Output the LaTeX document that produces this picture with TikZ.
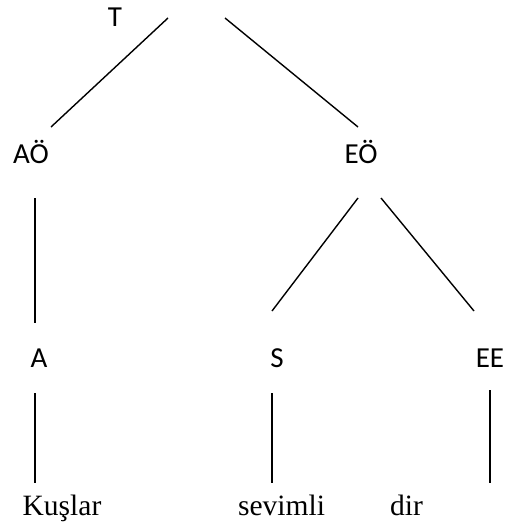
\documentclass[tikz,border=0pt]{standalone}
\usepackage{fontspec}
\setmainfont{Liberation Serif}
\newfontfamily\labelfont{Carlito}
\begin{document}
\begin{tikzpicture}[x=1pt,y=-1pt,
  cat/.style={inner sep=0pt,anchor=base,font=\labelfont\fontsize{29}{31}\selectfont},
  word/.style={inner sep=0pt,anchor=base,font=\fontsize{29.5}{31}\selectfont},
  edge/.style={line width=1.4pt}]
\useasboundingbox (0,0) rectangle (505,527);
% category labels
\node[cat] (T) at (115,27) {T};
\node[cat] (AO) at (31,163) {AÖ};
\node[cat] (EO) at (361,163) {EÖ};
\node[cat] (A) at (39,367) {A};
\node[cat] (S) at (277,367) {S};
\node[cat] (EE) at (490,367) {EE};
% words
\node[word] (kuslar) at (62,515) {Kuşlar};
\node[word] (sevimli) at (281.5,515) {sevimli};
\node[word] (dir) at (406.5,515) {dir};
% connector end points
\coordinate (T-l) at (168,18);
\coordinate (T-r) at (225,18);
\coordinate (AO-t) at (51,127);
\coordinate (EO-t) at (358,127);
\coordinate (AO-b) at (35,198);
\coordinate (A-t) at (35,323);
\coordinate (EO-bl) at (358,198);
\coordinate (EO-br) at (381,198);
\coordinate (S-t) at (272,311);
\coordinate (EE-t) at (474,311);
\coordinate (A-b) at (35,393);
\coordinate (kuslar-t) at (35,483);
\coordinate (S-b) at (272,393);
\coordinate (sevimli-t) at (272,483);
\coordinate (EE-b) at (490,390);
\coordinate (EE-e) at (490,483);
% connectors
\draw[edge] (T-l) -- (AO-t);
\draw[edge] (T-r) -- (EO-t);
\draw[edge] (AO-b) -- (A-t);
\draw[edge] (EO-bl) -- (S-t);
\draw[edge] (EO-br) -- (EE-t);
\draw[edge] (A-b) -- (kuslar-t);
\draw[edge] (S-b) -- (sevimli-t);
\draw[edge] (EE-b) -- (EE-e);
\end{tikzpicture}
\end{document}
